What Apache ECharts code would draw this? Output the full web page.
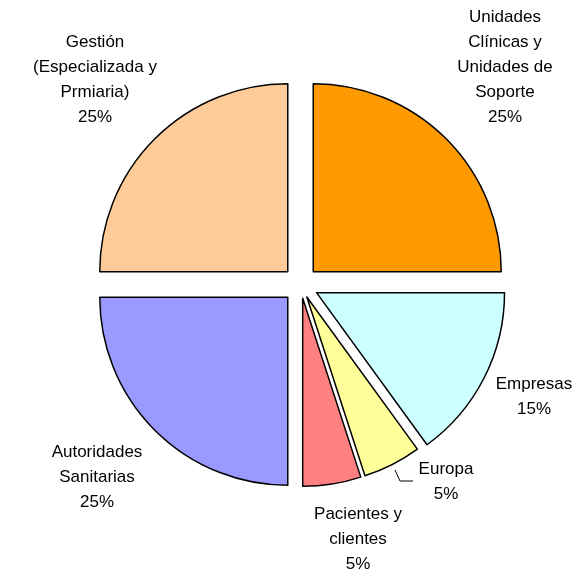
<!DOCTYPE html>
<html>
<head>
<meta charset="utf-8">
<script src="https://cdn.jsdelivr.net/npm/echarts@6/dist/echarts.min.js"></script>
<style>
  html, body { margin: 0; padding: 0; background: #fff; }
  #chart { width: 576px; height: 572px; }
</style>
</head>
<body>
<div id="chart"></div>
<script>
// datos del gráfico
const categories = [
  "Unidades\nClínicas y\nUnidades de\nSoporte",
  "Empresas",
  "Europa",
  "Pacientes y\nclientes",
  "Autoridades\nSanitarias",
  "Gestión\n(Especializada y\nPrmiaria)"
];
const values = [25, 15, 5, 5, 25, 25];
const colors = ["#FF9900", "#CCFFFF", "#FFFF99", "#FF8080", "#9999FF", "#FFCC99"];
// porciones poco separadas (las de 5%)
const smallSlices = [2, 3];

// posición del centro de cada etiqueta
const labelPos = [
  [505, 67.5],
  [534, 396.5],
  [446, 481.5],
  [358, 539],
  [97, 477.5],
  [95, 80]
];

let chart = echarts.init(document.getElementById("chart"));

const pieBase = {
  type: "pie",
  center: [300.5, 284.5],
  radius: 188,
  startAngle: 90,
  clockwise: true,
  silent: true,
  animation: false,
  emphasis: { disabled: true }
};

const hidden = { color: "rgba(0,0,0,0)", borderWidth: 0 };

// porciones separadas (sin etiquetas)
function sliceSeries(visible, offset) {
  return Object.assign({}, pieBase, {
    selectedMode: "multiple",
    selectedOffset: offset,
    select: {
      itemStyle: { borderColor: "#000", borderWidth: 1.5 }
    },
    label: { show: false },
    labelLine: { show: false },
    data: categories.map((name, i) => ({
      name: name,
      value: values[i],
      selected: true,
      itemStyle: visible(i)
        ? { color: colors[i], borderColor: "#000", borderWidth: 1.5 }
        : hidden,
      select: visible(i) ? undefined : { itemStyle: hidden }
    }))
  });
}

// serie transparente que solo lleva las etiquetas
const labelSeries = Object.assign({}, pieBase, {
  selectedMode: false,
  itemStyle: hidden,
  label: {
    show: true,
    position: "outside",
    color: "#000",
    fontFamily: "Liberation Sans, Arial, sans-serif",
    fontSize: 17,
    lineHeight: 25,
    overflow: "none",
    formatter: (p) => p.name + "\n" + Math.round(p.percent) + "%"
  },
  labelLine: {
    show: false,
    lineStyle: { color: "#000", width: 1 }
  },
  labelLayout: (params) => {
    let pos = labelPos[params.dataIndex];
    let res = {
      x: pos[0],
      y: pos[1],
      align: "center",
      verticalAlign: "middle"
    };
    if (params.dataIndex == 2) {
      // línea guía de Europa
      res.labelLinePoints = [[395, 470], [400, 481], [413, 481]];
    }
    return res;
  },
  data: categories.map((name, i) => ({
    name: name,
    value: values[i],
    labelLine: { show: i == 2 }
  }))
});

chart.setOption({
  backgroundColor: "#fff",
  animation: false,
  series: [
    sliceSeries((i) => smallSlices.indexOf(i) < 0, 18),
    sliceSeries((i) => smallSlices.indexOf(i) >= 0, 14),
    labelSeries
  ]
});
</script>
</body>
</html>
